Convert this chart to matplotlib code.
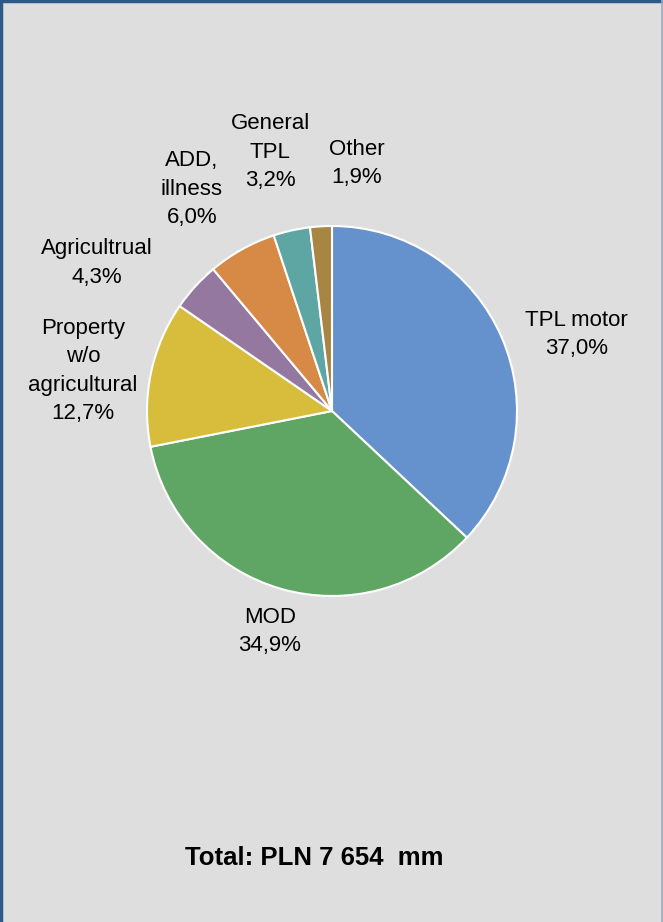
import matplotlib.pyplot as plt
from matplotlib.lines import Line2D

labels = ["TPL motor", "MOD", "Property\nw/o\nagricultural", "Agricultrual",
          "ADD,\nillness", "General\nTPL", "Other"]
shares = [37.0, 34.9, 12.7, 4.3, 6.0, 3.2, 1.9]
colors = ["#6592cd", "#5fa664", "#d8bc3b", "#94789f", "#d68a46", "#5ea6a3", "#a98544"]
# label centres in pie units (radius = 1)
label_pos = [(1.32, 0.415), (-0.335, -1.19), (-1.346, 0.216), (-1.27, 0.80),
             (-0.757, 1.20), (-0.335, 1.40), (0.135, 1.34)]
total_text = "Total: PLN 7 654  mm"

plt.rcParams['font.family'] = ['Liberation Sans', 'DejaVu Sans']

W, H = 663, 922
fig = plt.figure(figsize=(W / 100, H / 100), dpi=100)
fig.patch.set_facecolor("#dedede")

cx, cy, r = 332, 411, 185
ax = fig.add_axes([(cx - r) / W, (H - cy - r) / H, 2 * r / W, 2 * r / H])
ax.pie(shares, colors=colors, startangle=90, counterclock=False, radius=1,
       wedgeprops=dict(edgecolor="white", linewidth=1.5))
ax.set_xlim(-1, 1)
ax.set_ylim(-1, 1)
ax.set_aspect("equal")
ax.axis("off")

for lab, val, (x, y) in zip(labels, shares, label_pos):
    txt = lab + "\n" + ("%.1f%%" % val).replace(".", ",")
    ax.text(x, y, txt, ha="center", va="center", fontsize=16,
            linespacing=1.45, color="black", clip_on=False)

fig.text(314 / W, 1 - 858 / H, total_text, ha="center", va="center",
         fontsize=18.5, fontweight="bold", color="black")

# frame around the chart area
fig.add_artist(Line2D([0, 1], [1 - 1.5 / H] * 2, transform=fig.transFigure,
                      color="#2e5a88", lw=2.5))
fig.add_artist(Line2D([1 / W] * 2, [0, 1], transform=fig.transFigure,
                      color="#2e5a88", lw=2.5))
fig.add_artist(Line2D([1 - 1 / W] * 2, [0, 1], transform=fig.transFigure,
                      color="#9aabbf", lw=1.2))

fig.savefig("out.png", dpi=100, facecolor=fig.get_facecolor())
